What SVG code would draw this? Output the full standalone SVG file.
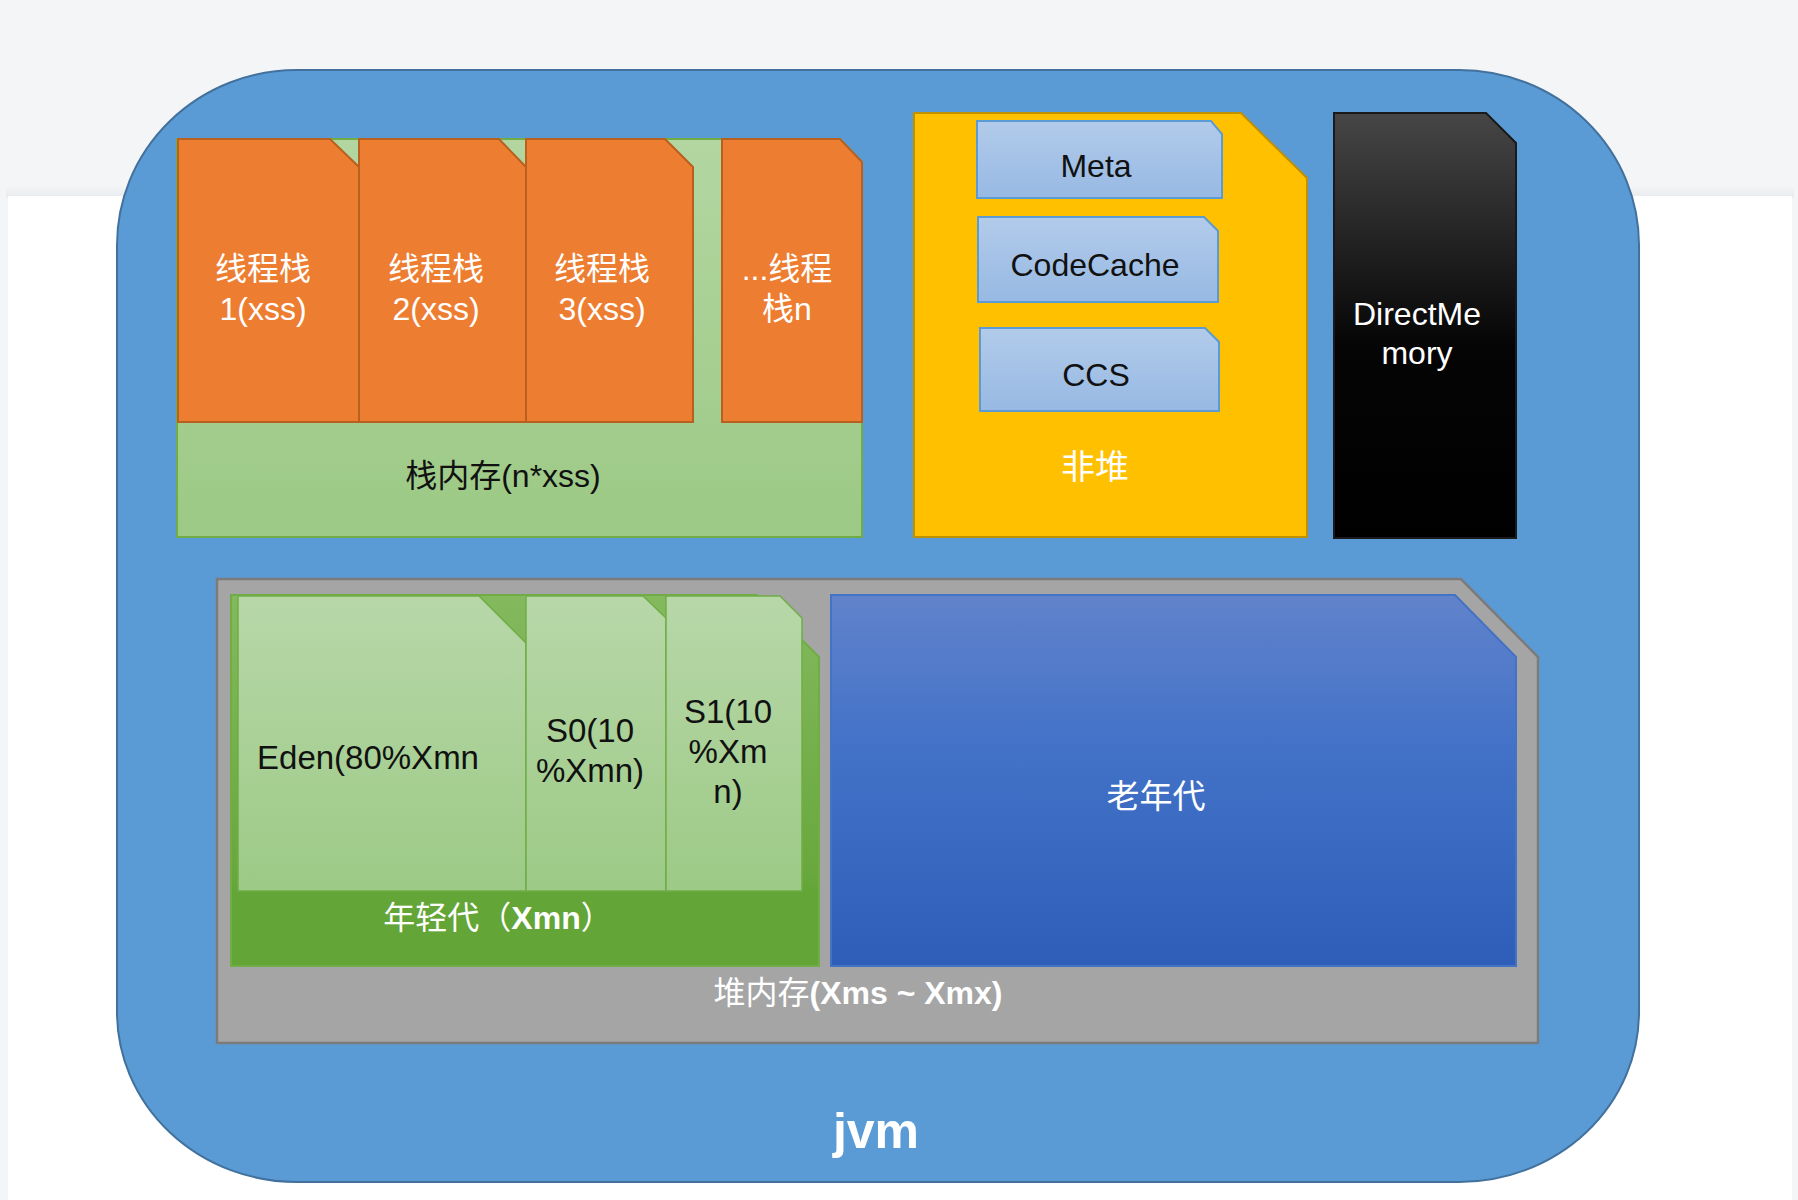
<svg xmlns="http://www.w3.org/2000/svg" width="1798" height="1200" viewBox="0 0 1798 1200">
<defs>
<linearGradient id="gStack" x1="0" y1="0" x2="0" y2="1"><stop offset="0" stop-color="#b3d6a1"/><stop offset="1" stop-color="#9cc985"/></linearGradient>
<linearGradient id="gBlueBox" x1="0" y1="0" x2="0" y2="1"><stop offset="0" stop-color="#b2cbea"/><stop offset="1" stop-color="#97b9e3"/></linearGradient>
<linearGradient id="gBlack" x1="0" y1="0" x2="0" y2="1"><stop offset="0" stop-color="#464646"/><stop offset="0.55" stop-color="#050505"/><stop offset="1" stop-color="#000"/></linearGradient>
<linearGradient id="gOld" x1="0" y1="0" x2="0" y2="1"><stop offset="0" stop-color="#6183cb"/><stop offset="0.4" stop-color="#4372c8"/><stop offset="1" stop-color="#2e5eb8"/></linearGradient>
<linearGradient id="gYoung" x1="0" y1="0" x2="0" y2="1"><stop offset="0" stop-color="#84b95e"/><stop offset="0.75" stop-color="#69a83d"/><stop offset="0.8" stop-color="#63a537"/><stop offset="1" stop-color="#63a537"/></linearGradient>
<linearGradient id="gLight" x1="0" y1="0" x2="0" y2="1"><stop offset="0" stop-color="#b7d7a8"/><stop offset="1" stop-color="#9dca86"/></linearGradient>
<linearGradient id="gShadow" x1="0" y1="0" x2="0" y2="1"><stop offset="0" stop-color="#f4f5f7"/><stop offset="1" stop-color="#e9eaed"/></linearGradient>
</defs>
<style>
text{font-family:"Liberation Sans","Noto Sans CJK SC",Arial,sans-serif;text-anchor:middle;font-size:32px}
.w{fill:#ffffff}
.k{fill:#111111}
.b{font-weight:bold}
.orange{fill:#ed7d31;stroke:#b8601f;stroke-width:2}
.bluebox{fill:url(#gBlueBox);stroke:#5b9bd5;stroke-width:2}
.light{fill:url(#gLight);stroke:#70ad47;stroke-width:1.5}
</style>
<rect x="0" y="0" width="1798" height="1200" fill="#f4f5f7"/>
<rect x="6" y="186" width="1788" height="12" fill="url(#gShadow)"/>
<rect x="8" y="196" width="1784" height="1004" fill="#ffffff"/>

<g id="jvm">
<path d="M297,70 H1459 A180,175 0 0 1 1639,245 V1012 A180,170 0 0 1 1459,1182 H297 A180,170 0 0 1 117,1012 V245 A180,175 0 0 1 297,70 Z" fill="#5b9bd5" stroke="#41719c" stroke-width="2"/>
<text class="w b" x="876" y="1148" style="font-size:50px">jvm</text>
</g>

<g id="stack-memory">
<path d="M177,139 H840 L862,162 V537 H177 Z" fill="url(#gStack)" stroke="#70ad47" stroke-width="2"/>
<text class="k" x="503" y="487">栈内存(n*xss)</text>
</g>

<g id="thread-stack-1">
<path class="orange" d="M178,139 H330 L359,167 V422 H178 Z"/>
<text class="w" x="263" y="280">线程栈</text>
<text class="w" x="263" y="320">1(xss)</text>
</g>
<g id="thread-stack-2">
<path class="orange" d="M359,139 H499 L526,167 V422 H359 Z"/>
<text class="w" x="436" y="280">线程栈</text>
<text class="w" x="436" y="320">2(xss)</text>
</g>
<g id="thread-stack-3">
<path class="orange" d="M526,139 H665 L693,167 V422 H526 Z"/>
<text class="w" x="602" y="280">线程栈</text>
<text class="w" x="602" y="320">3(xss)</text>
</g>
<g id="thread-stack-n">
<path class="orange" d="M722,139 H840 L862,162 V422 H722 Z"/>
<text class="w" x="787" y="280">...线程</text>
<text class="w" x="787" y="320">栈n</text>
</g>

<g id="non-heap">
<path d="M914,113 H1241 L1307,178 V537 H914 Z" fill="#ffc000" stroke="#bf9000" stroke-width="2"/>
<text class="w" x="1095" y="479" style="font-size:34px">非堆</text>
</g>
<g id="meta">
<path class="bluebox" d="M977,121 H1211 L1222,134 V198 H977 Z"/>
<text class="k" x="1096" y="177">Meta</text>
</g>
<g id="codecache">
<path class="bluebox" d="M978,217 H1204 L1218,231 V302 H978 Z"/>
<text class="k" x="1095" y="276">CodeCache</text>
</g>
<g id="ccs">
<path class="bluebox" d="M980,328 H1205 L1219,342 V411 H980 Z"/>
<text class="k" x="1096" y="386">CCS</text>
</g>

<g id="direct-memory">
<path d="M1334,113 H1486 L1516,143 V538 H1334 Z" fill="url(#gBlack)" stroke="#1a1a1a" stroke-width="2"/>
<text class="w" x="1417" y="325">DirectMe</text>
<text class="w" x="1417" y="364">mory</text>
</g>

<g id="heap">
<path d="M217,579 H1461 L1538,657 V1043 H217 Z" fill="#a5a5a5" stroke="#7b7b7b" stroke-width="2.5"/>
<text class="w" x="858" y="1004">堆内存<tspan class="b">(Xms ~ Xmx)</tspan></text>
</g>

<g id="old-gen">
<path d="M831,595 H1455 L1516,657 V966 H831 Z" fill="url(#gOld)" stroke="#4472c4" stroke-width="2"/>
<text class="w" x="1156" y="808" style="font-size:33px">老年代</text>
</g>

<g id="young-gen">
<path d="M231,595 H757 L819,657 V966 H231 Z" fill="url(#gYoung)" stroke="#70ad47" stroke-width="2"/>
<text class="w" x="498" y="929" style="font-size:32px">年轻代（<tspan class="b">Xmn</tspan>）</text>
</g>
<g id="eden">
<path class="light" d="M238,596 H479 L526,643 V891 H238 Z"/>
<text class="k" x="368" y="769" style="font-size:33px">Eden(80%Xmn</text>
</g>
<g id="s0">
<path class="light" d="M526,596 H643 L666,618 V891 H526 Z"/>
<text class="k" x="590" y="742" style="font-size:33px">S0(10</text>
<text class="k" x="590" y="782" style="font-size:33px">%Xmn)</text>
</g>
<g id="s1">
<path class="light" d="M666,596 H780 L802,618 V891 H666 Z"/>
<text class="k" x="728" y="723" style="font-size:33px">S1(10</text>
<text class="k" x="728" y="763" style="font-size:33px">%Xm</text>
<text class="k" x="728" y="803" style="font-size:33px">n)</text>
</g>
<g id="connectors"></g>
</svg>
